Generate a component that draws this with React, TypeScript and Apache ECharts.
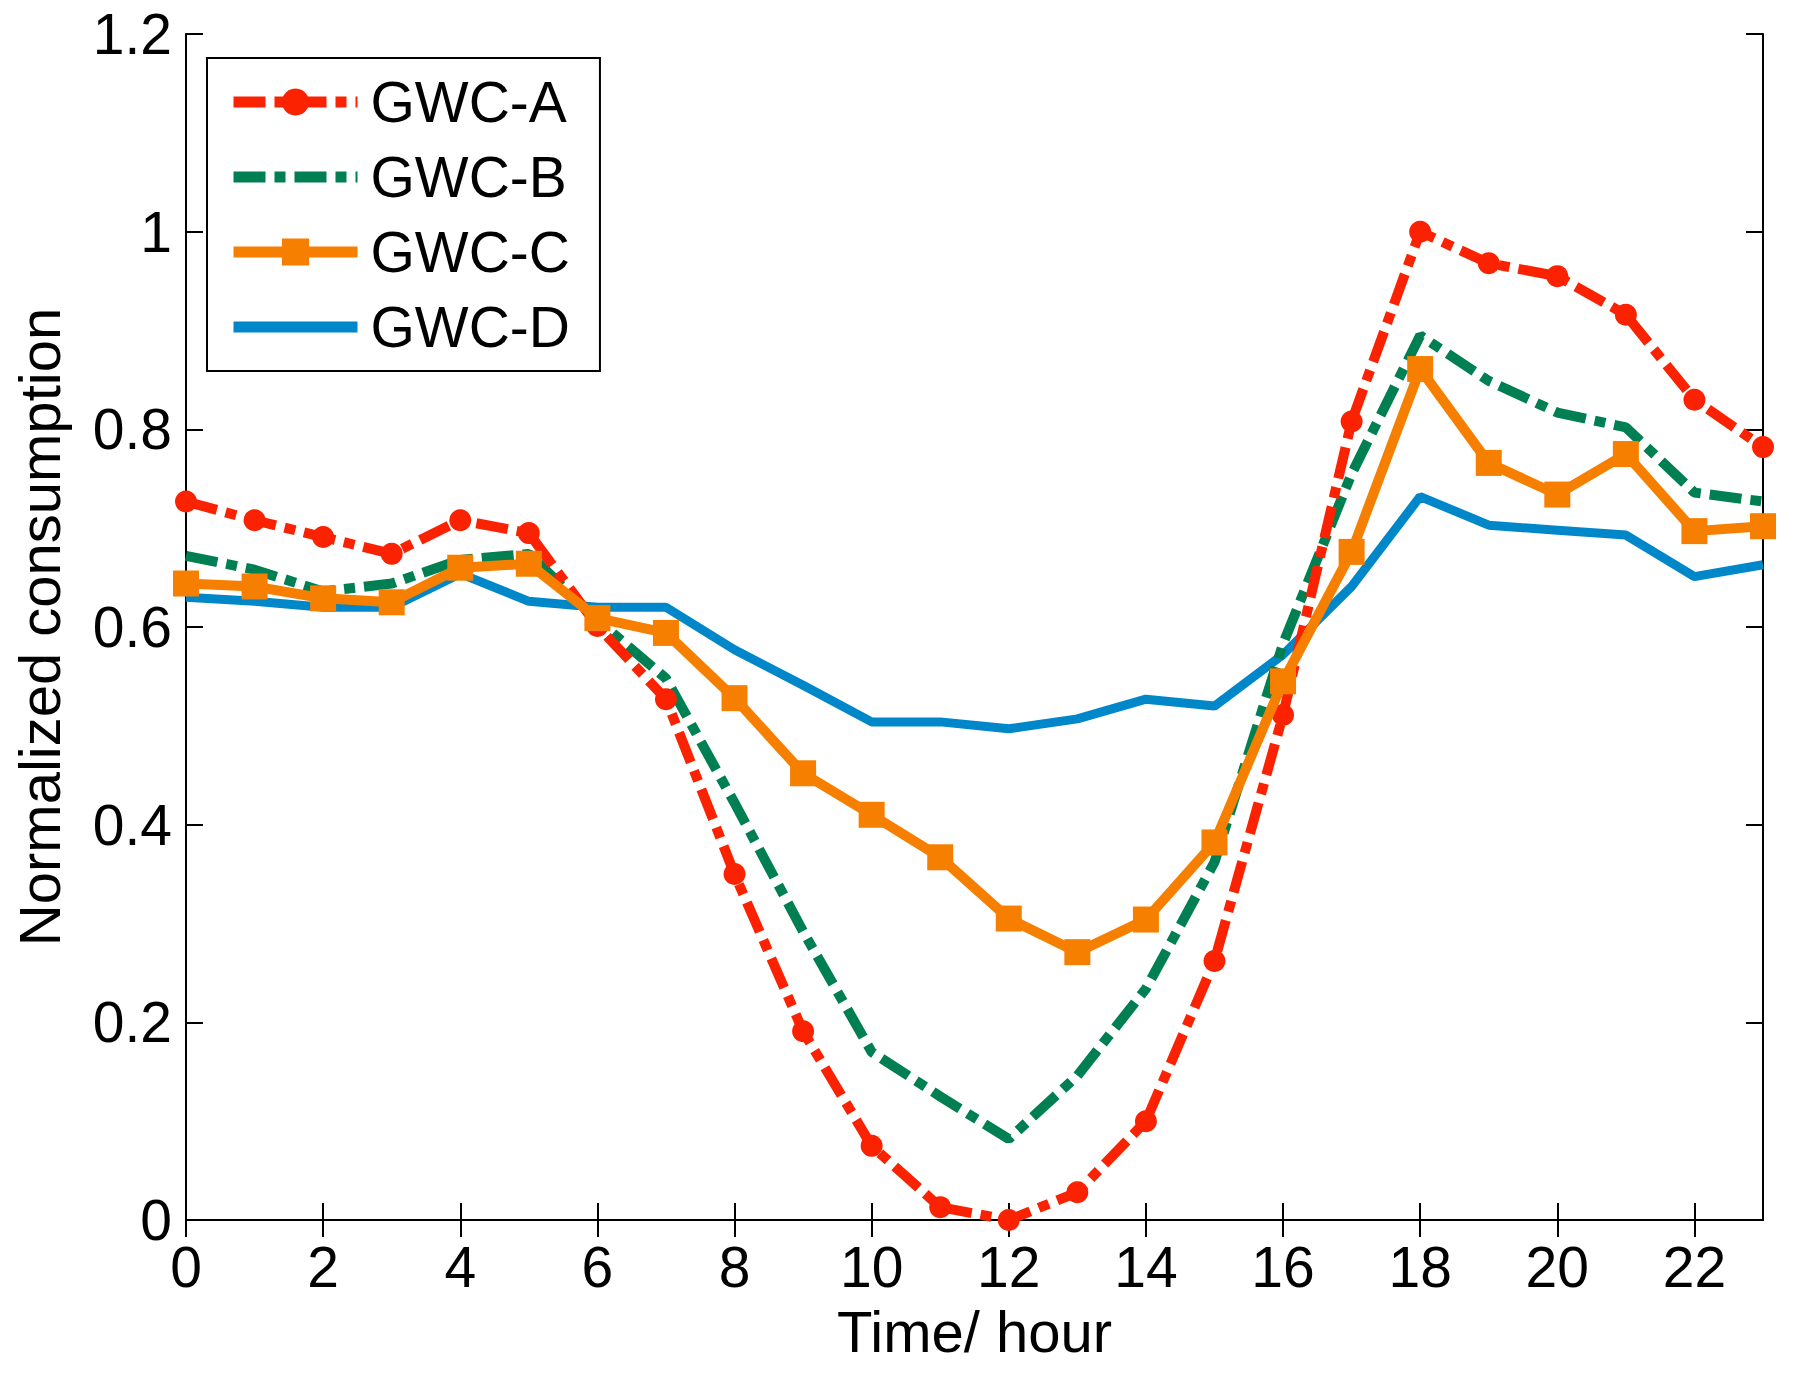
import { useEffect, useRef } from 'react';
import * as echarts from 'echarts';

const hours = ['0', '1', '2', '3', '4', '5', '6', '7', '8', '9', '10', '11', '12', '13', '14', '15', '16', '17', '18', '19', '20', '21', '22', '23'];

const gwcA = [0.727, 0.708, 0.691, 0.674, 0.708, 0.695, 0.601, 0.527, 0.350, 0.191, 0.075, 0.013, 0.0, 0.028, 0.100, 0.262, 0.511, 0.808, 1.0, 0.968, 0.955, 0.916, 0.830, 0.782];
const gwcB = [0.672, 0.658, 0.636, 0.644, 0.668, 0.674, 0.607, 0.548, 0.422, 0.292, 0.170, 0.125, 0.082, 0.146, 0.234, 0.362, 0.583, 0.755, 0.895, 0.849, 0.817, 0.802, 0.736, 0.727];
const gwcC = [0.644, 0.641, 0.629, 0.625, 0.660, 0.664, 0.609, 0.594, 0.528, 0.452, 0.410, 0.367, 0.305, 0.271, 0.304, 0.382, 0.545, 0.676, 0.861, 0.766, 0.734, 0.775, 0.697, 0.702];
const gwcD = [0.630, 0.626, 0.620, 0.620, 0.654, 0.626, 0.620, 0.620, 0.577, 0.541, 0.504, 0.504, 0.497, 0.507, 0.527, 0.520, 0.572, 0.641, 0.732, 0.703, 0.698, 0.693, 0.651, 0.663];

const FONT = 'Liberation Sans';
const RED = '#FA2200';
const GREEN = '#008052';
const ORANGE = '#F77F00';
const BLUE = '#0087CA';

export default function App() {
  const chartRef = useRef<HTMLDivElement>(null);

  useEffect(() => {
    if (!chartRef.current) return;
    const myChart = echarts.init(chartRef.current, null, { renderer: 'svg' });

    const axisLine = { show: true, lineStyle: { color: '#000', width: 2 } };
    const tick = { show: true, inside: true, length: 17, lineStyle: { color: '#000', width: 2 } };
    const dashDot = [32, 9, 11, 9];

    const option = {
      animation: false,
      backgroundColor: '#fff',
      textStyle: { fontFamily: FONT },
      grid: { left: 186, right: 38, top: 34, bottom: 153, containLabel: false },
      legend: {
        orient: 'vertical',
        left: 207,
        top: 58,
        padding: [14, 30, 14, 21],
        itemWidth: 124,
        itemHeight: 34,
        itemGap: 15,
        borderColor: '#000',
        borderWidth: 2,
        backgroundColor: '#fff',
        textStyle: { fontSize: 57, color: '#000', fontFamily: FONT, lineHeight: 60, padding: [0, 0, 0, 8] },
        data: [
          { name: 'GWC-A', lineStyle: { color: RED, width: 11, type: dashDot }, itemStyle: { color: RED } },
          { name: 'GWC-B', lineStyle: { color: GREEN, width: 11, type: dashDot }, itemStyle: { color: GREEN, opacity: 0 } },
          { name: 'GWC-C', lineStyle: { color: ORANGE, width: 11, type: 'solid' }, itemStyle: { color: ORANGE } },
          { name: 'GWC-D', lineStyle: { color: BLUE, width: 11, type: 'solid' }, itemStyle: { color: BLUE, opacity: 0 } }
        ]
      },
      xAxis: [
        {
          type: 'category',
          data: hours,
          boundaryGap: false,
          name: 'Time/ hour',
          nameLocation: 'middle',
          nameGap: 82,
          nameTextStyle: { fontSize: 58, color: '#000', fontFamily: FONT },
          axisLine,
          axisTick: { ...tick, interval: 1 },
          axisLabel: { interval: 1, fontSize: 57, color: '#000', fontFamily: FONT, margin: 18 },
          splitLine: { show: false }
        },
        {
          type: 'category',
          data: hours,
          boundaryGap: false,
          position: 'top',
          axisLine,
          axisTick: { ...tick, interval: 1 },
          axisLabel: { show: false },
          splitLine: { show: false }
        }
      ],
      yAxis: [
        {
          type: 'value',
          min: 0,
          max: 1.2,
          interval: 0.2,
          name: 'Normalized consumption',
          nameLocation: 'middle',
          nameRotate: 90,
          nameGap: 118,
          nameTextStyle: { fontSize: 58, color: '#000', fontFamily: FONT },
          axisLine,
          axisTick: tick,
          axisLabel: { fontSize: 57, color: '#000', fontFamily: FONT, margin: 14 },
          splitLine: { show: false }
        },
        {
          type: 'value',
          min: 0,
          max: 1.2,
          interval: 0.2,
          position: 'right',
          axisLine,
          axisTick: tick,
          axisLabel: { show: false },
          splitLine: { show: false }
        }
      ],
      series: [
        {
          name: 'GWC-A',
          type: 'line',
          data: gwcA,
          symbol: 'circle',
          symbolSize: 22,
          itemStyle: { color: RED },
          lineStyle: { color: RED, width: 10, type: dashDot },
          z: 4
        },
        {
          name: 'GWC-B',
          type: 'line',
          data: gwcB,
          symbol: 'none',
          itemStyle: { color: GREEN },
          lineStyle: { color: GREEN, width: 10, type: dashDot },
          z: 3
        },
        {
          name: 'GWC-C',
          type: 'line',
          data: gwcC,
          symbol: 'rect',
          symbolSize: 26,
          itemStyle: { color: ORANGE },
          lineStyle: { color: ORANGE, width: 10 },
          z: 5
        },
        {
          name: 'GWC-D',
          type: 'line',
          data: gwcD,
          symbol: 'none',
          itemStyle: { color: BLUE },
          lineStyle: { color: BLUE, width: 9 },
          z: 2
        }
      ]
    };

    myChart.setOption(option);

    const handleResize = () => myChart.resize();
    window.addEventListener('resize', handleResize);

    return () => {
      window.removeEventListener('resize', handleResize);
      myChart.dispose();
    };
  }, []);

  return (
    <div
      ref={chartRef}
      style={{ position: 'absolute', left: 0, top: 0, width: 1801, height: 1373, background: '#fff' }}
    />
  );
}
